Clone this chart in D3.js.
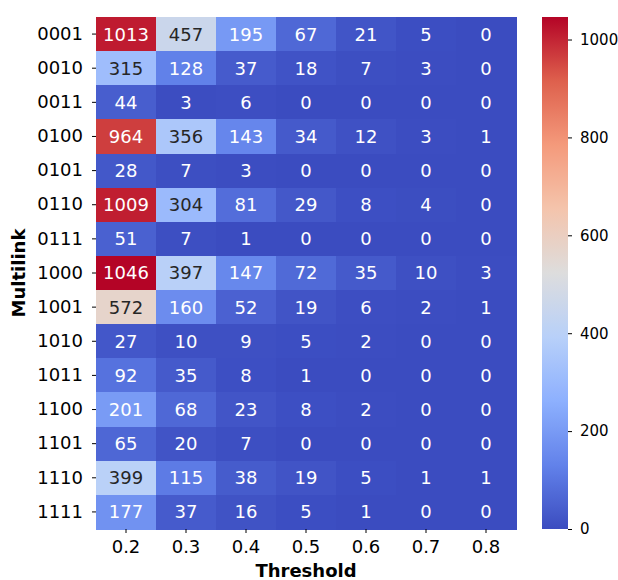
<!DOCTYPE html>
<html lang="en">
<head>
    <meta charset="UTF-8">
    <title>Multilink Threshold Heatmap</title>
    <script src="https://d3js.org/d3.v7.min.js"></script>
    <style>
        body { margin: 0; background: white; }
        text { font-family: "DejaVu Sans", sans-serif; }
    </style>
</head>
<body>
    <div id="chart"></div>
    <script>
        // data
        const multilinks = ["0001", "0010", "0011", "0100", "0101", "0110", "0111", "1000",
            "1001", "1010", "1011", "1100", "1101", "1110", "1111"];
        const thresholds = ["0.2", "0.3", "0.4", "0.5", "0.6", "0.7", "0.8"];
        const counts = [
            [1013, 457, 195, 67, 21, 5, 0],
            [315, 128, 37, 18, 7, 3, 0],
            [44, 3, 6, 0, 0, 0, 0],
            [964, 356, 143, 34, 12, 3, 1],
            [28, 7, 3, 0, 0, 0, 0],
            [1009, 304, 81, 29, 8, 4, 0],
            [51, 7, 1, 0, 0, 0, 0],
            [1046, 397, 147, 72, 35, 10, 3],
            [572, 160, 52, 19, 6, 2, 1],
            [27, 10, 9, 5, 2, 0, 0],
            [92, 35, 8, 1, 0, 0, 0],
            [201, 68, 23, 8, 2, 0, 0],
            [65, 20, 7, 0, 0, 0, 0],
            [399, 115, 38, 19, 5, 1, 1],
            [177, 37, 16, 5, 1, 0, 0]
        ];
        const cbarTicks = [0, 200, 400, 600, 800, 1000];

        const width = 618, height = 580;
        const plot = { left: 96, top: 17, right: 516, bottom: 529 };

        const svg = d3.select("#chart").append("svg")
            .attr("width", width)
            .attr("height", height);

        // coolwarm colormap approximated from 9 stops
        const coolwarmStops = ["#3b4cc0", "#6282ea", "#8db0fe", "#b8d0f9", "#dddddd",
            "#f4c4ac", "#f49a7b", "#de604d", "#b40426"];
        const coolwarm = d3.scaleLinear()
            .domain(d3.range(9).map(i => i / 8))
            .range(coolwarmStops)
            .interpolate(d3.interpolateRgb)
            .clamp(true);

        const vmax = d3.max(counts.flat());
        const norm = d3.scaleLinear().domain([0, vmax]).range([0, 1]);
        const color = v => coolwarm(norm(v));

        const x = d3.scaleBand().domain(thresholds).range([plot.left, plot.right]);
        const y = d3.scaleBand().domain(multilinks).range([plot.top, plot.bottom]);

        const cells = [];
        counts.forEach((row, i) => row.forEach((v, j) => cells.push({ m: multilinks[i], t: thresholds[j], v: v })));

        svg.append("g")
            .attr("shape-rendering", "crispEdges")
            .selectAll("rect")
            .data(cells)
            .enter().append("rect")
            .attr("x", d => x(d.t))
            .attr("y", d => y(d.m))
            .attr("width", x.bandwidth() + 1)
            .attr("height", y.bandwidth() + 1)
            .attr("fill", d => color(d.v));

        // text color by luminance, like seaborn
        function textColor(v) {
            const c = d3.rgb(color(v));
            const lin = ch => { ch /= 255; return ch <= 0.03928 ? ch / 12.92 : Math.pow((ch + 0.055) / 1.055, 2.4); };
            const lum = 0.2126 * lin(c.r) + 0.7152 * lin(c.g) + 0.0722 * lin(c.b);
            return lum > 0.408 ? "#262626" : "white";
        }

        svg.append("g").selectAll("text")
            .data(cells)
            .enter().append("text")
            .attr("x", d => x(d.t) + x.bandwidth() / 2)
            .attr("y", d => y(d.m) + y.bandwidth() / 2)
            .attr("dy", "0.36em")
            .attr("text-anchor", "middle")
            .attr("font-size", 18)
            .attr("fill", d => textColor(d.v))
            .text(d => d.v);

        // axes
        const xAxis = svg.append("g")
            .attr("transform", "translate(0," + plot.bottom + ")")
            .call(d3.axisBottom(x).tickSize(4).tickPadding(7));
        const yAxis = svg.append("g")
            .attr("transform", "translate(" + plot.left + ",0)")
            .call(d3.axisLeft(y).tickSize(4).tickPadding(9));

        [xAxis, yAxis].forEach(a => {
            a.select(".domain").remove();
            a.selectAll("line").attr("stroke", "#000").attr("stroke-width", 1);
            a.selectAll("text").attr("font-size", 18).attr("fill", "#000")
                .attr("font-family", "DejaVu Sans");
        });

        svg.append("text")
            .attr("x", (plot.left + plot.right) / 2)
            .attr("y", 577)
            .attr("text-anchor", "middle")
            .attr("font-size", 18)
            .attr("font-weight", "bold")
            .text("Threshold");

        svg.append("text")
            .attr("transform", "translate(25," + (plot.top + plot.bottom) / 2 + ") rotate(-90)")
            .attr("text-anchor", "middle")
            .attr("font-size", 18)
            .attr("font-weight", "bold")
            .text("Multilink");

        // colorbar
        const cbar = { left: 542, width: 26 };
        const cy = d3.scaleLinear().domain([0, vmax]).range([plot.bottom, plot.top]);

        const defs = svg.append("defs");
        const grad = defs.append("linearGradient")
            .attr("id", "cbar-grad")
            .attr("x1", 0).attr("y1", 1).attr("x2", 0).attr("y2", 0);
        grad.selectAll("stop")
            .data(d3.range(0, 1.0001, 0.025))
            .enter().append("stop")
            .attr("offset", d => d)
            .attr("stop-color", d => coolwarm(d));

        svg.append("rect")
            .attr("x", cbar.left)
            .attr("y", plot.top)
            .attr("width", cbar.width)
            .attr("height", plot.bottom - plot.top)
            .attr("fill", "url(#cbar-grad)");

        const cAxis = svg.append("g")
            .attr("transform", "translate(" + (cbar.left + cbar.width) + ",0)")
            .call(d3.axisRight(cy).tickValues(cbarTicks).tickFormat(d3.format("d"))
                .tickSize(4).tickPadding(8));
        cAxis.select(".domain").remove();
        cAxis.selectAll("line").attr("stroke", "#000");
        cAxis.selectAll("text").attr("font-size", 15).attr("fill", "#000")
            .attr("font-family", "DejaVu Sans");
    </script>
</body>
</html>
